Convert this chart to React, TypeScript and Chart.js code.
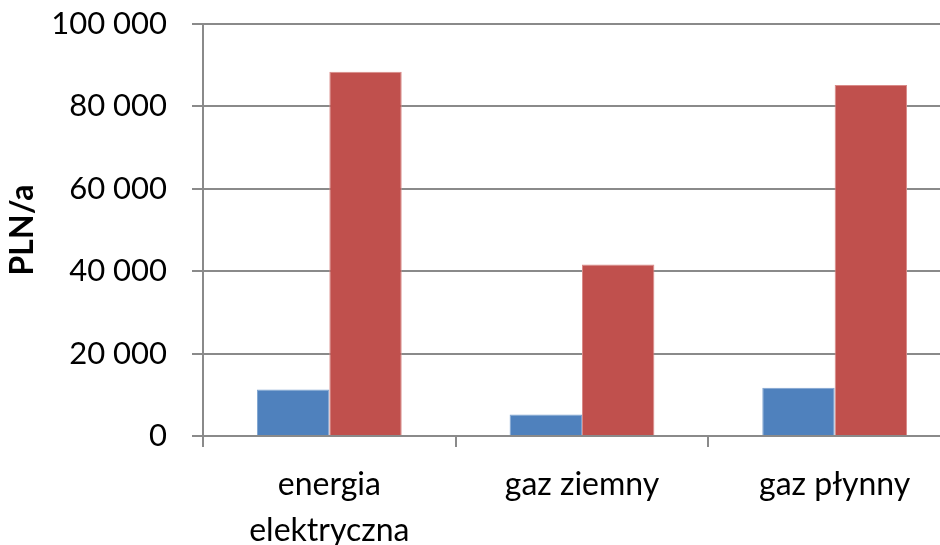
import React, { useEffect, useRef } from "react";
import { Chart, registerables } from "chart.js";

Chart.register(...registerables);

// Annual heating cost by energy carrier (PLN per year)
const categories: (string | string[])[] = [["energia", "elektryczna"], "gaz ziemny", "gaz płynny"];
const seriesBlue = [11300, 5200, 11700];
const seriesRed = [88400, 41600, 85200];
const yTicks = [0, 20000, 40000, 60000, 80000, 100000];

const BLUE = "#4F81BD";
const RED = "#C0504D";
const GRID = "#8a8a8a";
const FONT = "Lato, 'Open Sans', sans-serif";

const formatThousands = (v: number) =>
  String(v).replace(/\B(?=(\d{3})+(?!\d))/g, " ");

export default function App() {
  const canvasRef = useRef<HTMLCanvasElement | null>(null);

  useEffect(() => {
    const canvas = canvasRef.current;
    if (!canvas) return;
    const chart = new Chart(canvas, {
      type: "bar",
      data: {
        labels: categories,
        datasets: [
          {
            label: "A",
            data: seriesBlue,
            backgroundColor: BLUE,
            borderColor: "#7fa3d0",
            borderWidth: 1,
            barPercentage: 1,
            categoryPercentage: 0.573,
          },
          {
            label: "B",
            data: seriesRed,
            backgroundColor: RED,
            borderColor: "#d98a88",
            borderWidth: 1,
            barPercentage: 1,
            categoryPercentage: 0.573,
          },
        ],
      },
      options: {
        responsive: false,
        animation: false,
        devicePixelRatio: 1,
        layout: { padding: { top: 24, right: 0, left: 0, bottom: 0 } },
        plugins: {
          legend: { display: false },
          tooltip: { enabled: false },
        },
        scales: {
          x: {
            grid: {
              offset: true,
              drawOnChartArea: false,
              drawTicks: true,
              tickLength: 11,
              color: GRID,
              lineWidth: 2,
            },
            border: { display: true, color: GRID, width: 2 },
            ticks: {
              color: "#000",
              padding: 15,
              maxRotation: 0,
              autoSkip: false,
              font: { family: FONT, size: 32, lineHeight: 1.43 },
            },
            afterFit: (scale: any) => {
              scale.height = 109;
            },
          },
          y: {
            min: 0,
            max: 100000,
            afterBuildTicks: (scale: any) => {
              scale.ticks = yTicks.map((v) => ({ value: v }));
            },
            grid: {
              color: GRID,
              lineWidth: 2,
              drawTicks: true,
              tickLength: 11,
            },
            border: { display: true, color: GRID, width: 2 },
            ticks: {
              color: "#000",
              padding: 25,
              font: { family: FONT, size: 31 },
              callback: (v: any) => formatThousands(Number(v)),
            },
            title: {
              display: true,
              text: "PLN/a",
              color: "#000",
              padding: { top: 3, bottom: 0 },
              font: { family: FONT, size: 32, weight: "bold", lineHeight: 1.2 },
            },
            afterFit: (scale: any) => {
              scale.width = 203;
              scale.paddingTop = 0;
              scale.paddingBottom = 0;
            },
          },
        },
      },
    });
    return () => chart.destroy();
  }, []);

  return (
    <div
      style={{
        position: "fixed",
        left: 0,
        top: 0,
        width: 940,
        height: 545,
        overflow: "hidden",
        background: "#fff",
      }}
    >
      <canvas ref={canvasRef} width={961} height={545} style={{ display: "block" }} />
    </div>
  );
}
